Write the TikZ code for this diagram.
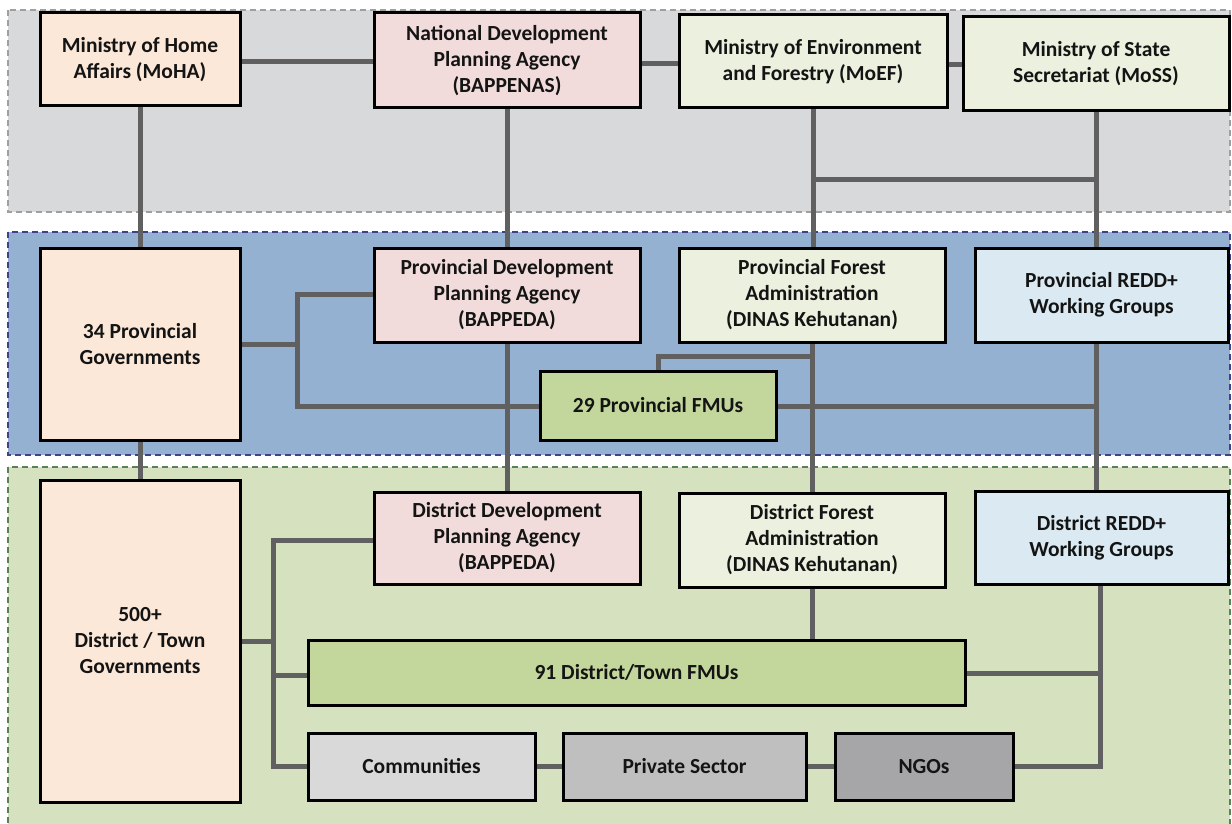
\documentclass[tikz,border=0pt]{standalone}
\usepackage{fontspec}
\setmainfont{Carlito}
\usetikzlibrary{calc}
\definecolor{peach}{HTML}{FBE8D8}
\definecolor{pinkb}{HTML}{F2DCDB}
\definecolor{lgreen}{HTML}{EBF1DE}
\definecolor{lblue}{HTML}{DBEAF2}
\definecolor{olive}{HTML}{C3D69B}
\definecolor{commc}{HTML}{D9D9D9}
\definecolor{privc}{HTML}{BFBFBF}
\definecolor{ngoc}{HTML}{A6A6A8}
\definecolor{bandgray}{HTML}{D8D9DB}
\definecolor{bandblue}{HTML}{95B1D2}
\definecolor{bandgreen}{HTML}{D6E2BF}
\definecolor{conncol}{HTML}{606060}
\definecolor{txt}{HTML}{141414}
\pgfdeclarelayer{back}
\pgfdeclarelayer{links}
\pgfsetlayers{back,links,main}
\tikzset{
  box/.style={draw=black, line width=3pt, align=center, inner sep=0pt, outer sep=0pt,
    text=txt, font=\fontsize{21.5}{26}\selectfont\bfseries},
  conn/.style={draw=conncol, line width=5pt},
  band/.style={line width=1.1pt, dash pattern=on 6pt off 4pt}
}
\newcommand\bx[7]{\node[box, fill=#6, minimum width={#4-#2}, minimum height={#5-#3}] (#1) at ({(#2+#4)/2},{(#3+#5)/2}) {#7};}
\begin{document}
\begin{tikzpicture}[x=1pt,y=-1pt]
\useasboundingbox (0,0) rectangle (1232,824);
% bands
\begin{pgfonlayer}{back}
\fill[white] (0,0) rectangle (1232,824);
\draw[band, fill=bandgray, draw=gray!75] (8,10) rectangle (1230,212);
\draw[band, fill=bandblue, draw=black!40!blue!50!gray] (8,232) rectangle (1230,455);
\draw[band, fill=bandgreen, draw=black!50!green!30!gray] (8,467) rectangle (1230,830);
\end{pgfonlayer}
% national
\bx{moha}{40}{13}{240}{106}{peach}{Ministry of Home\\Affairs (MoHA)}
\bx{bappenas}{374}{13}{640}{108}{pinkb}{National Development\\Planning Agency\\(BAPPENAS)}
\bx{moef}{679}{15}{947}{108}{lgreen}{Ministry of Environment\\and Forestry (MoEF)}
\bx{moss}{963}{17}{1229}{111}{lgreen}{Ministry of State\\Secretariat (MoSS)}
% provincial
\bx{pgov}{40}{248}{240}{440}{peach}{34 Provincial\\Governments}
\bx{pbap}{374}{248}{640}{342}{pinkb}{Provincial Development\\Planning Agency\\(BAPPEDA)}
\bx{pfa}{679}{248}{945}{342}{lgreen}{Provincial Forest\\Administration\\(DINAS Kehutanan)}
\bx{predd}{975}{248}{1228}{342}{lblue}{Provincial REDD+\\Working Groups}
\bx{pfmu}{540}{371}{776}{440}{olive}{29 Provincial FMUs}
% district
\bx{dgov}{40}{480}{240}{802}{peach}{500+\\District / Town\\Governments}
\bx{dbap}{374}{492}{640}{584}{pinkb}{District Development\\Planning Agency\\(BAPPEDA)}
\bx{dfa}{679}{493}{945}{587}{lgreen}{District Forest\\Administration\\(DINAS Kehutanan)}
\bx{dredd}{975}{491}{1228}{584}{lblue}{District REDD+\\Working Groups}
\bx{dfmu}{308}{640}{965}{705}{olive}{91 District/Town FMUs}
\bx{comm}{308}{733}{535}{800}{commc}{Communities}
\bx{priv}{563}{733}{806}{800}{privc}{Private Sector}
\bx{ngo}{835}{733}{1013}{800}{ngoc}{NGOs}
% connectors
\begin{pgfonlayer}{links}
\draw[conn] (moha.east |- 0,62) -- (bappenas.west |- 0,62);
\draw[conn] (bappenas.east |- 0,64) -- (moef.west |- 0,64);
\draw[conn] (moef.east |- 0,65) -- (moss.west |- 0,65);
\draw[conn] (moha.south) -- (pgov.north);
\draw[conn] (bappenas.south) -- (pbap.north);
\draw[conn] (moef.south) -- (moef.south |- pfa.north);
\draw[conn] (moss.south) -- (moss.south |- predd.north);
\draw[conn] (moef.south |- 0,180) -- (moss.south |- 0,180);
% provincial
\draw[conn] (pgov.east |- 0,344) -- (297,344);
\draw[conn] (pbap.west |- 0,294) -| (297,406) -- (pfmu.west |- 0,406);
\draw[conn] (pbap.south) -- (pbap.south |- dbap.north);
\draw[conn] (pfa.south) -- (pfa.south |- dfa.north);
\draw[conn] (pfmu.north -| 658,0) |- (pfa.south |- 0,356);
\draw[conn] (pfmu.east |- 0,406) -- (moss.south |- 0,406);
\draw[conn] (predd.south -| moss.south) -- (moss.south |- dredd.north);
\draw[conn] (pgov.south) -- (dgov.north);
% district
\draw[conn] (dgov.east |- 0,641) -- (273,641);
\draw[conn] (dbap.west |- 0,540) -| (273,766) -- (comm.west |- 0,766);
\draw[conn] (273,675) -- (dfmu.west |- 0,675);
\draw[conn] (dfa.south) -- (dfa.south |- dfmu.north);
\draw[conn] (dfmu.east |- 0,673) -- (1100,673);
\draw[conn] (dredd.south -| 1100,0) |- (ngo.east |- 0,766);
\draw[conn] (comm.east) -- (priv.west);
\draw[conn] (priv.east) -- (ngo.west);
\end{pgfonlayer}
\end{tikzpicture}
\end{document}
